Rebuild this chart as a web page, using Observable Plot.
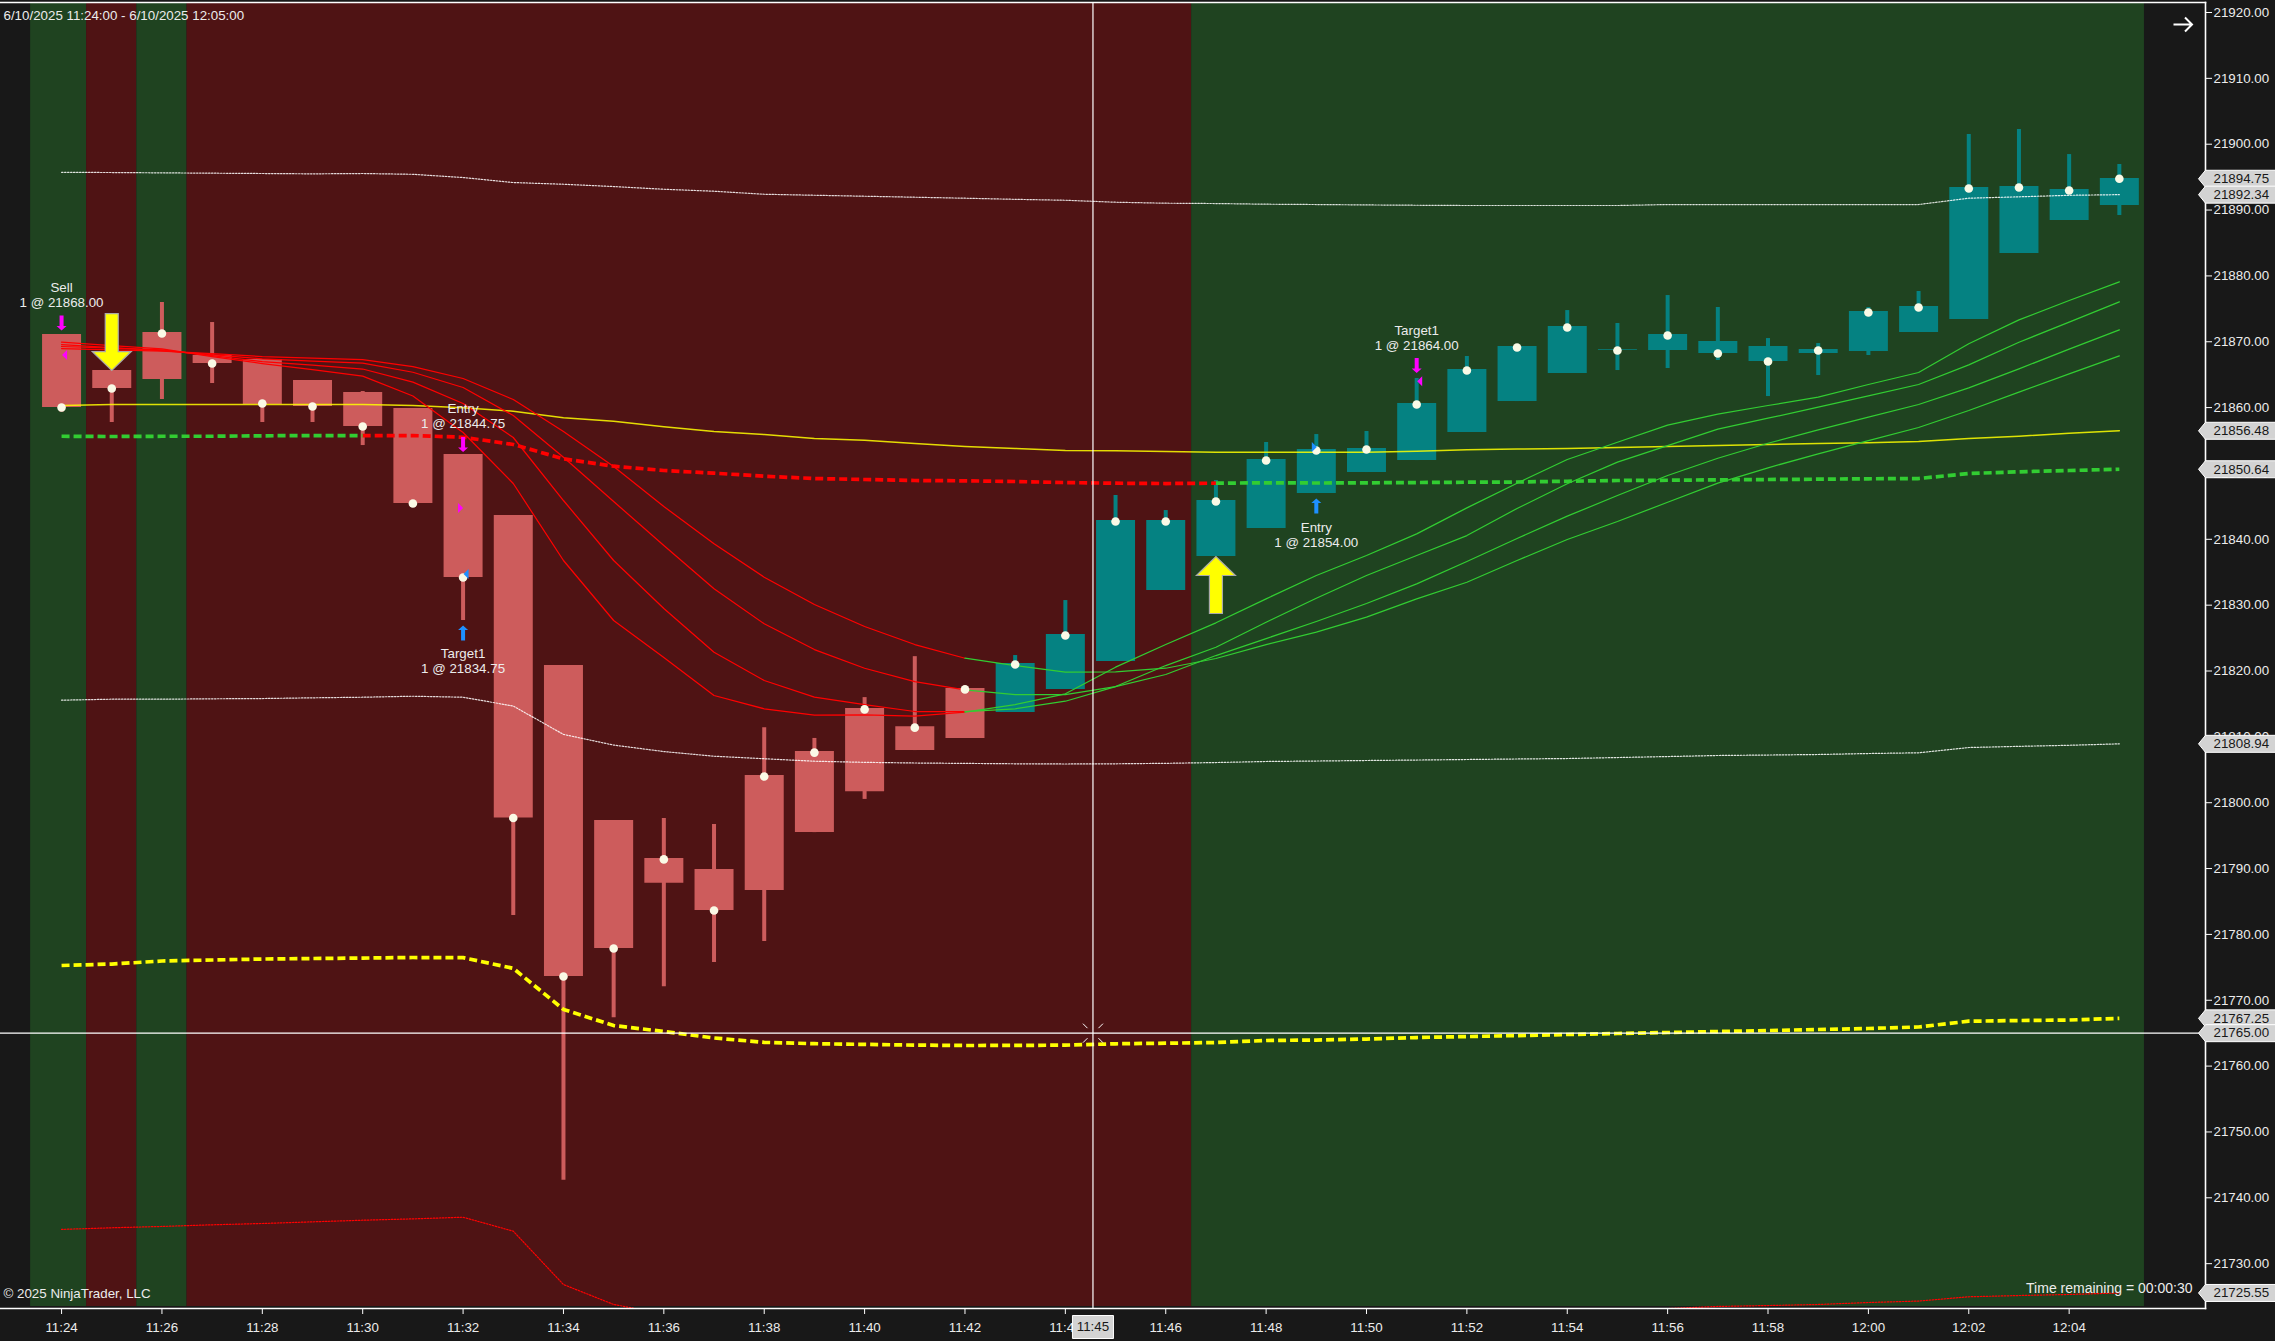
<!DOCTYPE html>
<html>
<head>
<meta charset="utf-8">
<script src="https://cdn.jsdelivr.net/npm/d3@7"></script>
<script src="https://cdn.jsdelivr.net/npm/@observablehq/plot@0.6"></script>
<style>html,body{margin:0;padding:0;background:#181818;overflow:hidden}svg{display:block}</style>
</head>
<body>
<div id="chart"></div>
<script>
const times = ["11:24","11:25","11:26","11:27","11:28","11:29","11:30","11:31","11:32","11:33","11:34","11:35","11:36","11:37","11:38","11:39","11:40","11:41","11:42","11:43","11:44","11:45","11:46","11:47","11:48","11:49","11:50","11:51","11:52","11:53","11:54","11:55","11:56","11:57","11:58","11:59","12:00","12:01","12:02","12:03","12:04","12:05"];
const bodyTop = [21871.10,21865.63,21871.40,21867.91,21867.30,21864.11,21862.29,21859.86,21852.88,21843.61,21820.83,21797.29,21791.54,21789.87,21804.13,21807.76,21814.32,21811.55,21817.36,21821.14,21825.54,21842.85,21842.85,21845.89,21852.12,21853.63,21853.79,21860.62,21865.78,21869.28,21872.31,21868.78,21871.10,21870.04,21869.28,21868.82,21874.59,21875.35,21893.42,21893.57,21893.12,21894.79];
const bodyBottom = [21860.01,21862.90,21864.27,21866.69,21860.47,21860.16,21857.13,21845.43,21834.20,21797.67,21773.60,21777.87,21787.75,21783.63,21786.66,21795.46,21801.68,21807.92,21809.76,21813.70,21817.19,21821.44,21832.22,21837.39,21841.64,21846.95,21850.14,21851.96,21856.22,21860.92,21865.18,21868.67,21868.67,21868.21,21867.00,21868.21,21868.52,21871.40,21873.38,21883.40,21888.41,21890.69];
const high = [21871.10,21865.63,21875.96,21872.92,21867.30,21864.11,21862.44,21859.86,21852.88,21843.61,21820.83,21797.29,21797.61,21796.70,21811.40,21809.76,21815.96,21822.18,21817.36,21822.35,21830.70,21846.65,21844.37,21848.93,21854.70,21855.91,21856.37,21864.42,21867.76,21869.28,21874.74,21872.77,21877.02,21875.20,21870.49,21869.73,21875.20,21877.63,21901.47,21902.23,21898.43,21896.92];
const low = [21859.30,21857.74,21861.23,21863.66,21857.74,21857.74,21854.24,21845.43,21827.67,21782.87,21742.68,21767.36,21772.07,21775.72,21778.91,21795.46,21800.50,21807.92,21809.76,21813.70,21817.19,21821.44,21832.22,21837.39,21841.64,21846.95,21850.14,21851.96,21856.22,21860.92,21865.18,21865.63,21865.94,21867.15,21861.68,21864.87,21867.91,21871.40,21873.38,21883.40,21888.41,21889.17];
const closeMark = [21860.01,21862.90,21871.25,21866.69,21860.62,21860.16,21857.13,21845.43,21834.20,21797.67,21773.60,21777.87,21791.39,21783.63,21803.98,21807.61,21814.17,21811.40,21817.21,21820.98,21825.39,21842.70,21842.70,21845.74,21851.96,21853.48,21853.63,21860.47,21865.63,21869.12,21872.16,21868.67,21870.95,21868.21,21867.00,21868.67,21874.44,21875.20,21893.27,21893.42,21892.97,21894.75];
const upperBand = [21895.73,21895.70,21895.65,21895.60,21895.55,21895.50,21895.55,21895.43,21894.94,21894.18,21893.92,21893.57,21893.16,21892.86,21892.40,21892.25,21892.10,21891.95,21891.80,21891.63,21891.49,21891.19,21891.04,21890.99,21890.89,21890.84,21890.78,21890.73,21890.69,21890.69,21890.69,21890.69,21890.84,21890.84,21890.84,21890.84,21890.84,21890.84,21891.80,21892.01,21892.24,21892.34];
const middleBand = [21815.57,21815.72,21815.72,21815.78,21815.82,21815.93,21816.02,21816.17,21816.02,21814.68,21810.37,21808.75,21807.77,21807.06,21806.68,21806.30,21806.13,21806.03,21805.97,21805.91,21805.88,21805.91,21805.98,21806.10,21806.26,21806.33,21806.41,21806.48,21806.56,21806.64,21806.71,21806.86,21807.01,21807.17,21807.24,21807.32,21807.47,21807.58,21808.38,21808.56,21808.72,21808.94];
const lowerBand = [21735.20,21735.45,21735.65,21735.90,21736.10,21736.35,21736.60,21736.80,21737.05,21734.93,21726.83,21723.80,21722.38,21721.26,21720.96,21720.35,21720.16,21720.11,21720.14,21720.19,21720.27,21720.63,21720.92,21721.21,21721.63,21721.82,21722.04,21722.23,21722.43,21722.59,21722.73,21723.03,21723.18,21723.50,21723.64,21723.80,21724.10,21724.32,21724.97,21725.16,21725.32,21725.55];
const outerDashed = [21775.28,21775.50,21775.96,21776.11,21776.26,21776.34,21776.41,21776.49,21776.47,21774.84,21768.61,21766.16,21765.25,21764.27,21763.61,21763.40,21763.30,21763.19,21763.13,21763.14,21763.19,21763.39,21763.48,21763.58,21763.89,21763.96,21764.11,21764.34,21764.49,21764.64,21764.80,21764.95,21765.10,21765.25,21765.40,21765.56,21765.71,21765.94,21766.82,21766.92,21767.00,21767.25];
const slowAverage = [21860.32,21860.47,21860.47,21860.47,21860.47,21860.47,21860.47,21860.32,21859.97,21859.45,21858.45,21857.93,21857.08,21856.37,21855.91,21855.31,21855.05,21854.55,21854.09,21853.79,21853.48,21853.44,21853.33,21853.22,21853.22,21853.21,21853.22,21853.38,21853.59,21853.71,21853.79,21853.94,21854.09,21854.24,21854.39,21854.55,21854.65,21854.85,21855.31,21855.65,21856.11,21856.48];
const trendDashed = [21855.65,21855.61,21855.65,21855.65,21855.72,21855.76,21855.76,21855.76,21855.50,21854.40,21852.22,21851.10,21850.45,21850.04,21849.58,21849.23,21849.08,21848.93,21848.88,21848.78,21848.62,21848.52,21848.47,21848.52,21848.58,21848.55,21848.58,21848.62,21848.67,21848.70,21848.82,21848.93,21848.97,21849.03,21849.08,21849.13,21849.19,21849.23,21849.99,21850.25,21850.45,21850.64];
const emaA = [21868.97,21868.75,21868.56,21868.21,21867.76,21867.53,21867.30,21866.24,21864.42,21861.23,21856.37,21851.05,21844.98,21839.32,21834.24,21830.10,21826.76,21824.02,21821.94,21820.83,21819.82,21819.88,21820.42,21821.90,21824.02,21825.89,21828.17,21830.96,21833.48,21836.78,21839.97,21842.70,21845.63,21848.52,21850.86,21852.98,21855.00,21856.98,21859.56,21862.34,21865.13,21867.86];
const emaB = [21869.58,21869.12,21868.67,21868.06,21867.41,21867.07,21866.77,21865.37,21863.05,21858.80,21852.47,21845.74,21839.06,21832.48,21827.17,21823.26,21820.42,21818.40,21817.14,21816.43,21816.43,21817.64,21819.47,21822.35,21824.93,21827.52,21830.25,21833.24,21836.63,21840.12,21843.51,21846.65,21849.69,21852.31,21854.59,21856.63,21858.54,21860.47,21863.00,21865.89,21868.87,21871.81];
const emaC = [21869.28,21869.05,21868.78,21867.91,21867.00,21866.47,21865.86,21863.86,21860.62,21855.46,21845.89,21836.78,21829.49,21822.85,21818.56,21816.02,21814.91,21813.85,21813.85,21814.26,21815.41,21817.64,21820.83,21823.61,21827.41,21831.05,21834.50,21837.54,21840.57,21844.68,21848.43,21851.71,21854.24,21856.72,21858.39,21860.06,21861.79,21863.51,21866.50,21869.93,21872.97,21876.06];
const emaD = [21869.93,21869.43,21868.93,21867.76,21866.69,21865.78,21864.77,21861.76,21856.22,21848.47,21836.78,21827.67,21822.05,21816.28,21814.26,21813.29,21813.35,21813.13,21813.74,21814.91,21816.54,21820.58,21824.02,21827.32,21830.96,21834.50,21837.54,21840.83,21844.78,21848.52,21852.12,21854.74,21857.33,21859.00,21860.32,21861.58,21863.51,21865.33,21869.69,21873.33,21876.26,21879.10];

const xTickLabels = ["11:24","11:26","11:28","11:30","11:32","11:34","11:36","11:38","11:40","11:42","11:44","11:46","11:48","11:50","11:52","11:54","11:56","11:58","12:00","12:02","12:04"];
const priceTicks = [21730,21740,21750,21760,21770,21780,21790,21800,21810,21820,21830,21840,21850,21860,21870,21880,21890,21900,21910,21920];
const priceTags = [21894.75,21892.34,21856.48,21850.64,21808.94,21767.25,21765.00,21725.55];

const bandStart = ["11:23:23","11:24:30","11:25:30","11:26:30","11:46:31"];
const bandEnd   = ["11:24:30","11:25:30","11:26:30","11:46:31","12:05:30"];
const bandColor = ["#1f4320","#4f1314","#1f4320","#4f1314","#1f4320"];

const orderLabels = ["Sell\n1 @ 21868.00","Entry\n1 @ 21844.75","Target1\n1 @ 21834.75","Entry\n1 @ 21854.00","Target1\n1 @ 21864.00"];
const orderLabelTime = ["11:24","11:32","11:32","11:49","11:51"];
const orderLabelPrice = [21877.1,21858.8,21821.52,21840.73,21870.57];

const magentaArrowTime = ["11:24","11:32","11:51"];
const magentaArrowPrice = [21872.85,21854.39,21866.39];
const blueArrowTime = ["11:32","11:49"];
const blueArrowPrice = [21825.77,21845.05];

const crossTime = "11:44:33";
const crossPrice = 21765;

const parseClock = s => d3.utcParse(s.length > 5 ? "%H:%M:%S" : "%H:%M")(s);
const fmtClock = d3.utcFormat("%H:%M");
const rows = times.map((t,i) => ({t: parseClock(t), top: bodyTop[i], bottom: bodyBottom[i], high: high[i], low: low[i], close: closeMark[i],
  upper: upperBand[i], middle: middleBand[i], lower: lowerBand[i], outer: outerDashed[i], slow: slowAverage[i], trend: trendDashed[i],
  a: emaA[i], b: emaB[i], c: emaC[i], d: emaD[i]}));
const downRows = rows.slice(0,19), upRows = rows.slice(19);
const bands = bandStart.map((s,i)=>({x1: parseClock(s), x2: parseClock(bandEnd[i]), fill: bandColor[i]}));

const poly = pts => ({draw(c){pts.forEach((p,i)=> i? c.lineTo(p[0],p[1]) : c.moveTo(p[0],p[1])); c.closePath();}});
const bigDown = poly([[-6.5,-57],[6.5,-57],[6.5,-19],[19.5,-19],[0,0],[-19.5,-19],[-6.5,-19]]);
const bigUp = poly([[-6.5,57],[6.5,57],[6.5,19],[19.5,19],[0,0],[-19.5,19],[-6.5,19]]);
const smallDown = poly([[-2,-7.5],[2,-7.5],[2,3],[5,3],[0,7.5],[-5,3],[-2,3]]);
const smallUp = poly([[-2,7.5],[2,7.5],[2,-3],[5,-3],[0,-7.5],[-5,-3],[-2,-3]]);
const triL = poly([[0,-5],[0,5],[-5,0]]);
const triR = poly([[0,-5],[0,5],[5,0]]);
const tagShape = poly([[-7,0],[0,-8.5],[72,-8.5],[72,8.5],[0,8.5]]);
const timeTagShape = poly([[-20.5,7],[20.5,7],[20.5,30],[-20.5,30]]);
const crossTicks = {draw(c){
  [[1,1],[1,-1],[-1,1],[-1,-1]].forEach(([a,b])=>{c.moveTo(a*5.5,b*5);c.lineTo(a*10,b*9.5);});
}};
const arrowGlyph = {draw(c){c.moveTo(-9,0);c.lineTo(9,0);c.moveTo(2.5,-7);c.lineTo(9.5,0);c.lineTo(2.5,7);}};

const lineOpts = (y,stroke,extra={}) => ({x:"t", y, stroke, strokeWidth:1.25, curve:"linear", ...extra});
const emaKeys = ["a","b","c","d"];
const dashed = {strokeWidth:3.7, strokeDasharray:"8 4", strokeLinecap:"butt"};
const txt = "#ececec";

const chart = Plot.plot({
  width: 2275, height: 1341,
  marginLeft: 0, marginRight: 70, marginTop: 2, marginBottom: 33,
  style: {background:"#181818", fontFamily:"'Liberation Sans', Arial, sans-serif", fontSize:"13.33px", color:txt, overflow:"visible"},
  x: {type:"utc", domain:[parseClock("11:22:47"), parseClock("12:06:43")]},
  y: {domain:[21723.19, 21921.52]},
  marks: [
    Plot.rect(bands, {x1:"x1", x2:"x2", fill:"fill", insetTop:1, insetBottom:2}),
    // candles
    Plot.ruleX(downRows, {x:"t", y1:"low", y2:"high", stroke:"#cd5c5c", strokeWidth:4}),
    Plot.ruleX(upRows, {x:"t", y1:"low", y2:"high", stroke:"#058282", strokeWidth:4}),
    Plot.ruleX(downRows, {x:"t", y1:"bottom", y2:"top", stroke:"#cd5c5c", strokeWidth:39}),
    Plot.ruleX(upRows, {x:"t", y1:"bottom", y2:"top", stroke:"#058282", strokeWidth:39}),
    // bands
    Plot.line(rows, lineOpts("upper","#ffffff",{strokeWidth:1.2,strokeDasharray:"1.5 1.5",strokeOpacity:.85})),
    Plot.line(rows, lineOpts("middle","#ffffff",{strokeWidth:1.2,strokeDasharray:"1.5 1.5",strokeOpacity:.85})),
    Plot.line(rows, lineOpts("lower","#ff0000",{strokeWidth:1.2,strokeDasharray:"1.5 1.5",clip:true})),
    Plot.line(rows, lineOpts("outer","#ffff00",dashed)),
    Plot.line(rows, lineOpts("slow","#ffff00",{strokeWidth:1.5,strokeOpacity:.85})),
    Plot.line(rows.slice(0,7), lineOpts("trend","#32cd32",dashed)),
    Plot.line(rows.slice(6,24), lineOpts("trend","#ff0000",dashed)),
    Plot.line(rows.slice(23), lineOpts("trend","#32cd32",dashed)),
    ...emaKeys.map(k => Plot.line(rows.slice(0,19), lineOpts(k,"#ff0000"))),
    ...emaKeys.map(k => Plot.line(rows.slice(18), lineOpts(k,"#32cd32"))),
    // close marks
    Plot.dot(rows, {x:"t", y:"close", r:4.3, fill:"#fafae6"}),
    // signal arrows
    Plot.dot([{t:"11:25",p:bodyTop[1]}], {x:d=>parseClock(d.t), y:"p", symbol:bigDown, r:10, fill:"#ffff00", stroke:"#a9a9a9", strokeWidth:1.2}),
    Plot.dot([{t:"11:47",p:bodyBottom[23]}], {x:d=>parseClock(d.t), y:"p", symbol:bigUp, r:10, fill:"#ffff00", stroke:"#a9a9a9", strokeWidth:1.2}),
    // executions
    Plot.dot(magentaArrowTime.map((t,i)=>({t,p:magentaArrowPrice[i]})), {x:d=>parseClock(d.t), y:"p", symbol:smallDown, r:6, fill:"#ff00ff"}),
    Plot.dot(blueArrowTime.map((t,i)=>({t,p:blueArrowPrice[i]})), {x:d=>parseClock(d.t), y:"p", symbol:smallUp, r:6, fill:"#1e90ff"}),
    Plot.dot([{t:"11:24",p:21868}], {x:d=>parseClock(d.t), y:"p", symbol:triL, r:5, fill:"#ff00ff", dx:5.5}),
    Plot.dot([{t:"11:32",p:21844.75}], {x:d=>parseClock(d.t), y:"p", symbol:triR, r:5, fill:"#ff00ff", dx:-5}),
    Plot.dot([{t:"11:32",p:21834.75}], {x:d=>parseClock(d.t), y:"p", symbol:triL, r:5, fill:"#1e90ff", dx:5.5}),
    Plot.dot([{t:"11:49",p:21854}], {x:d=>parseClock(d.t), y:"p", symbol:triR, r:5, fill:"#1e90ff", dx:-4.5}),
    Plot.dot([{t:"11:51",p:21864}], {x:d=>parseClock(d.t), y:"p", symbol:triL, r:5, fill:"#ff00ff", dx:5.5}),
    Plot.text(orderLabels, {x:(d,i)=>parseClock(orderLabelTime[i]), y:(d,i)=>orderLabelPrice[i], text:d=>d, fill:txt, fontSize:13.33, lineHeight:1.1, textAnchor:"middle", lineAnchor:"middle"}),
    // crosshair
    Plot.ruleX([parseClock(crossTime)], {stroke:"#ffffff", strokeWidth:1.2}),
    Plot.ruleY([crossPrice], {stroke:"#ffffff", strokeWidth:1.2}),
    Plot.dot([{t:crossTime,p:crossPrice}], {x:d=>parseClock(d.t), y:"p", symbol:crossTicks, r:5, fill:"none", stroke:"#ffffff", strokeWidth:1}),
    // frame
    Plot.frame({anchor:"top", stroke:"#ffffff", strokeWidth:1.6}),
    Plot.frame({anchor:"right", stroke:"#ffffff", strokeWidth:1.6}),
    Plot.frame({anchor:"bottom", stroke:"#ffffff", strokeWidth:1.6}),
    // axes
    Plot.axisX({anchor:"bottom", ticks:xTickLabels.map(parseClock), tickFormat:fmtClock, tickSize:6, tickPadding:8, stroke:"#ffffff", fill:txt, label:null, fontSize:13.33}),
    Plot.axisY({anchor:"right", ticks:priceTicks, tickFormat:d=>d.toFixed(2), tickSize:6, tickPadding:2, stroke:"#ffffff", fill:txt, label:null, fontSize:13.33}),
    // price tags
    ...priceTags.map(p => [
      Plot.dot([p], {y:d=>d, frameAnchor:"right", symbol:tagShape, r:6, fill:"#d3d3d3", stroke:"#ffffff", strokeWidth:1}),
      Plot.text([p], {y:d=>d, frameAnchor:"right", dx:8, text:d=>d.toFixed(2), textAnchor:"start", fill:"#181818", fontSize:13.33})
    ]).flat(),
    // time tag
    Plot.dot([parseClock(crossTime)], {x:d=>d, frameAnchor:"bottom", symbol:timeTagShape, r:6, fill:"#d3d3d3", stroke:"#ffffff", strokeWidth:1}),
    Plot.text([crossTime], {x:d=>parseClock(d), frameAnchor:"bottom", dy:18.5, lineAnchor:"middle", text:()=>"11:45", fill:"#181818", fontSize:13.33}),
    // notes
    Plot.text(["6/10/2025 11:24:00 - 6/10/2025 12:05:00"], {frameAnchor:"top-left", dx:3, dy:8, text:d=>d, fill:txt, fontSize:13.33, textAnchor:"start"}),
    Plot.text(["\u00a9 2025 NinjaTrader, LLC"], {frameAnchor:"bottom-left", dx:3, dy:-15, lineAnchor:"middle", text:d=>d, fill:txt, fontSize:13.33, textAnchor:"start"}),
    Plot.text(["Time remaining = 00:00:30"], {frameAnchor:"bottom-right", dx:-13, dy:-20, lineAnchor:"middle", text:d=>d, fill:txt, fontSize:14, textAnchor:"end"}),
    Plot.dot([1], {frameAnchor:"top-right", dx:-23, dy:22, symbol:arrowGlyph, r:6, fill:"none", stroke:"#ffffff", strokeWidth:2})
  ]
});
document.getElementById("chart").appendChild(chart);
</script>
</body>
</html>
